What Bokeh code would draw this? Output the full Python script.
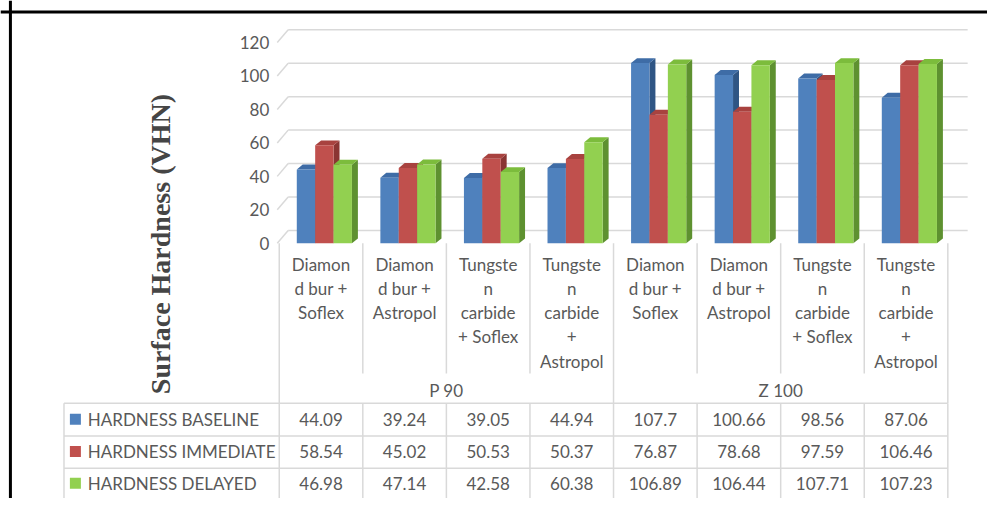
import math
from bokeh.plotting import figure
from bokeh.models import Range1d, Span
from bokeh.core.properties import value
from bokeh.embed import file_html
from bokeh.resources import INLINE

# ---------------- data ----------------
groups = ["P 90", "Z 100"]
sub_labels = ["Diamon\nd bur +\nSoflex", "Diamon\nd bur +\nAstropol",
              "Tungste\nn\ncarbide\n+ Soflex", "Tungste\nn\ncarbide\n+\nAstropol"]
categories = sub_labels * 2
series_names = ["HARDNESS BASELINE", "HARDNESS IMMEDIATE", "HARDNESS DELAYED"]
baseline = [44.09, 39.24, 39.05, 44.94, 107.7, 100.66, 98.56, 87.06]
immediate = [58.54, 45.02, 50.53, 50.37, 76.87, 78.68, 97.59, 106.46]
delayed = [46.98, 47.14, 42.58, 60.38, 106.89, 106.44, 107.71, 107.23]
y_ticks = [0, 20, 40, 60, 80, 100, 120]
y_title = "Surface Hardness (VHN)"

series = [baseline, immediate, delayed]
front_colors = ["#4F81BD", "#C0504D", "#92D050"]
top_colors = ["#3E6CA6", "#A8423F", "#7CBC3C"]
side_colors = ["#2F5584", "#8A3533", "#5E9130"]

# ------------- layout helpers (picture px -> data) -------------
PX_X0, PX_CW = 281.0, 84.25     # category 0 left edge, px per category
PX_Y0, PX_VS = 246.7, 1.70      # value 0 baseline, px per unit
PIC_W, PIC_H = 995, 506


def X(px):
    return (px - PX_X0) / PX_CW


def Y(py):
    return (PX_Y0 - py) / PX_VS


W, H = 987, 498
p = figure(width=W, height=H, output_backend="svg", toolbar_location=None,
           x_range=Range1d(X(0), X(PIC_W)), y_range=Range1d(Y(PIC_H), Y(0)),
           x_axis_location=None, y_axis_location=None, min_border=0)
p.outline_line_color = None
p.background_fill_color = "white"
p.border_fill_color = "white"
p.xgrid.visible = False
p.ygrid.visible = False

FONT = value("Lato")
FS = "17px"
TXT = "#595959"
GRID = "#D9D9D9"
n = len(categories)

# ------------- back wall gridlines -------------
wall_dy = 13 / PX_VS
p.segment(x0=[X(279)] * len(y_ticks), y0=y_ticks,
          x1=[X(290)] * len(y_ticks), y1=[t + wall_dy for t in y_ticks],
          line_color=GRID, line_width=1.5)
p.segment(x0=[X(290)] * len(y_ticks), y0=[t + wall_dy for t in y_ticks],
          x1=[X(975)] * len(y_ticks), y1=[t + wall_dy for t in y_ticks],
          line_color=GRID, line_width=1.5)

# y tick labels
p.text(x=[X(271)] * len(y_ticks), y=y_ticks, text=[str(t) for t in y_ticks],
       text_font=FONT, text_font_size=FS, text_color=TXT,
       text_align="right", text_baseline="middle")

# y title
p.text(x=[X(161)], y=[Y(247.5)], text=[y_title], angle=math.pi / 2,
       text_font=value("Liberation Serif"), text_font_style="bold",
       text_font_size="28px", text_color="#454545",
       text_align="center", text_baseline="middle")

# ------------- 3D bars -------------
BAR_W = 0.22
SHIFT = 0.04
DEP_X = 6 / PX_CW
DEP_Y = 5 / PX_VS
for s, vals in enumerate(series):
    xc = [i + 0.5 + SHIFT + (s - 1) * BAR_W for i in range(n)]
    xl = [x - BAR_W / 2 for x in xc]
    xr = [x + BAR_W / 2 for x in xc]
    p.patches(xs=[[a, a + DEP_X, a + DEP_X, a] for a in xr],
              ys=[[0, DEP_Y, v + DEP_Y, v] for v in vals],
              fill_color=side_colors[s], line_color=None)
    p.patches(xs=[[a, a + DEP_X, b + DEP_X, b] for a, b in zip(xl, xr)],
              ys=[[v, v + DEP_Y, v + DEP_Y, v] for v in vals],
              fill_color=top_colors[s], line_color=None)
    p.vbar(x=xc, width=BAR_W, top=vals, bottom=0,
           fill_color=front_colors[s], line_color=None)

# ------------- category labels -------------
LINE_PX = 24.5
lx, ly, lt = [], [], []
for i, lab in enumerate(categories):
    for k, line in enumerate(lab.split("\n")):
        lx.append(i + 0.5)
        ly.append(Y(268.3 + k * LINE_PX))
        lt.append(line)
p.text(x=lx, y=ly, text=lt, text_font=FONT, text_font_size=FS,
       text_color=TXT, text_align="center", text_baseline="middle")

per_group = len(sub_labels)
p.text(x=[g * per_group + per_group / 2 for g in range(len(groups))],
       y=[Y(396.7)] * len(groups), text=groups, text_font=FONT,
       text_font_size=FS, text_color=TXT, text_align="center",
       text_baseline="middle")

# separators in the label area
inner = [i for i in range(1, n) if i % per_group != 0]
outer = [i for i in range(0, n + 1) if i % per_group == 0]
p.segment(x0=inner, y0=[0] * len(inner), x1=inner, y1=[Y(379)] * len(inner),
          line_color=GRID, line_width=1.5)
p.segment(x0=outer, y0=[0] * len(outer), x1=outer, y1=[Y(409)] * len(outer),
          line_color=GRID, line_width=1.5)

# ------------- data table -------------
row_lines = [409.3, 442.5, 475.2, 508.0]
row_centers = [425.5, 458.3, 490.5]
p.segment(x0=[X(64)] * len(row_lines), y0=[Y(r) for r in row_lines],
          x1=[n] * len(row_lines), y1=[Y(r) for r in row_lines],
          line_color=GRID, line_width=1.5)
vcols = [X(64)] + list(range(0, n + 1))
p.segment(x0=vcols, y0=[Y(409.3)] * len(vcols), x1=vcols,
          y1=[Y(508)] * len(vcols), line_color=GRID, line_width=1.5)

p.scatter(x=[X(75.5)] * 3, y=[Y(r) for r in row_centers], marker="square",
          size=11, fill_color=front_colors, line_color=None)
p.text(x=[X(88)] * 3, y=[Y(r) for r in row_centers], text=series_names,
       text_font=FONT, text_font_size=FS, text_color=TXT,
       text_align="left", text_baseline="middle")

tx, ty, tt = [], [], []
for r, vals in enumerate(series):
    for i, v in enumerate(vals):
        tx.append(i + 0.5)
        ty.append(Y(row_centers[r]))
        tt.append(f"{v:g}")
p.text(x=tx, y=ty, text=tt, text_font=FONT, text_font_size=FS,
       text_color=TXT, text_align="center", text_baseline="middle")

# ------------- outer frame (top and left edges) -------------
p.add_layout(Span(location=Y(11.7), dimension="width", line_color="black",
                  line_width=3))
p.add_layout(Span(location=X(10), dimension="height", line_color="black",
                  line_width=3))

open("out.html", "w").write(file_html(p, INLINE))
